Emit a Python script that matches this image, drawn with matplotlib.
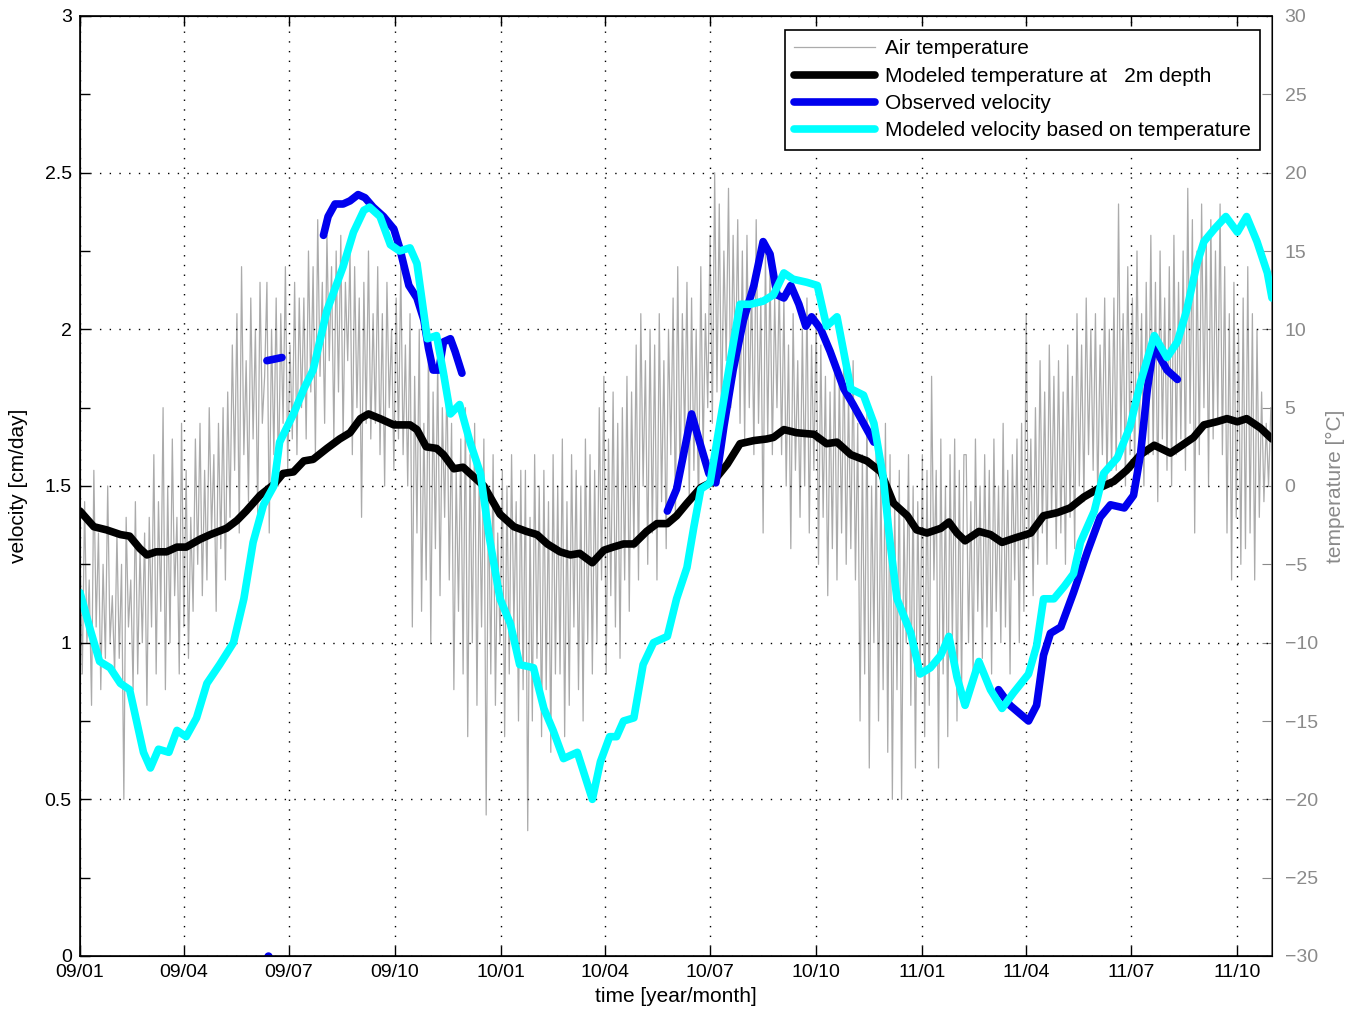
import numpy as np
import matplotlib
matplotlib.use("Agg")
import matplotlib.pyplot as plt
import matplotlib.dates as mdates
from matplotlib.ticker import MultipleLocator, FormatStrFormatter, FuncFormatter

plt.rcParams['font.family'] = ['Liberation Sans', 'DejaVu Sans']

START = np.datetime64('2009-01-01')
END_DAY = 1033

# air temperature (deg C), one value every 2 days from 2009-01-01
air_temp = [
    -4, -12, -1, -10, -6, -14, 1, -9, -3, -13, -5, -11, 0, -10, -7, -12,
    -3, -11, -5, -20, -2, -9, -6, -13, -1, -12, -4, -10, -3, -14, -2, -9,
    2, -12, -1, -8, 5, -13, 0, -10, 3, -7, -2, -12, 4, -9, 1, -11,
    -2, -8, 3, -5, 4, -7, 1, -6, 5, -3, 2, -8, 4, -4, 5, -6,
    6, -2, 9, 1, 11, -3, 14, 2, 8, -1, 12, 3, 10, -2, 13, 4,
    7, 13, -3, 10, 2, 12, 0, 11, 4, 14, 1, 9, 3, 13, 2, 12,
    5, 12, 3, 15, 6, 14, 2, 17, 7, 13, 4, 16, 8, 14, 3, 15,
    6, 16, 3, 13, 8, 15, 2, 14, 5, 12, -2, 13, 4, 15, 3, 11,
    4, 14, 2, 11, 0, 13, 5, 10, 1, 12, 3, 14, 2, 9, 0, 11,
    -9, 7, -3, 10, -8, 4, -6, 9, -10, 6, -4, 8, -7, 5, -2, 7,
    -6, 4, -13, 1, -8, 3, -12, 5, -16, 2, -10, 4, -14, 1, -9, 3,
    -21, 0, -12, 2, -14, -3, -10, 1, -16, 0, -12, 2, -9, -1, -15, 1,
    -13, 1, -22, -2, -15, 2, -11, 0, -16, 1, -13, -1, -17, 2, -12, 0,
    -12, 3, -16, -1, -14, 2, -9, 1, -13, 0, -15, 3, -10, 2, -12, 1,
    -10, 5, -6, 7, -12, 3, -7, 6, -9, 4, -11, 5, -6, 7, -8, 6,
    -4, 9, -6, 11, 0, 8, -5, 10, -3, 9, -6, 11, -1, 8, -4, 10,
    2, 12, -2, 14, 0, 11, 3, 13, -1, 12, 1, 10, -2, 14, 2, 11,
    5, 16, 4, 20, 6, 18, 4, 15, 8, 19, 5, 16, 7, 17, 4, 15,
    3, 16, 5, 13, 2, 17, 4, 12, -3, 15, 3, 14, 2, 12, 5, 13,
    2, 12, 0, 9, -4, 11, 1, 8, -2, 10, 0, 12, -3, 9, 1, 11,
    -5, 9, -2, 7, -7, 6, -4, 8, -6, 7, -3, 9, -5, 6, -4, 8,
    -6, 4, -15, 2, -12, 5, -18, 0, -10, 3, -15, 1, -13, 4, -17, 2,
    -20, -1, -13, 1, -20, -2, -10, 2, -14, 0, -18, -1, -12, 2, -16, 1,
    -14, 7, -6, 1, -18, 3, -12, 0, -16, 2, -10, 3, -15, 1, -13, 2,
    2, -10, -1, -12, 3, -8, 0, -11, 2, -9, 1, -12, 3, -8, 0, -10,
    4, -9, 1, -12, 2, -6, 3, -10, 4, -8, 11, -4, 3, -7, 5, -5,
    8, -3, 6, -5, 9, -2, 7, -4, 8, -3, 6, -5, 9, -2, 7, -4,
    11, 0, 9, -1, 12, 2, 10, 1, 11, -1, 9, 2, 12, 0, 10, 1,
    12, 1, 18, 3, 11, 0, 14, 2, 12, 1, 15, 3, 11, 0, 13, 2,
    16, 2, 13, -1, 15, 3, 12, 1, 14, 0, 16, 2, 13, 3, 15, 1,
    19, 4, 17, -3, 15, 2, 18, 5, 16, 0, 17, 3, 15, 4, 18, 2,
    14, -3, 11, -6, 13, -2, 10, -5, 12, -4, 14, -3, 11, -6, 10, -2,
    6, -1, 4, 0, 5,
]

# modeled temperature at 2 m depth (deg C)
t2m_day = [0, 12, 23, 35, 43, 52, 58, 66, 75, 84, 92, 104, 113, 127, 136, 144,
           156, 168, 176, 185, 194, 202, 214, 225, 234, 243, 250, 260, 272, 286,
           292, 300, 309, 315, 324, 332, 341, 350, 364, 376, 387, 396, 405, 416,
           425, 433, 444, 454, 462, 471, 480, 491, 500, 509, 517, 526, 538, 549,
           561, 572, 584, 595, 601, 610, 621, 636, 647, 656, 668, 682, 694, 705,
           717, 725, 734, 746, 753, 760, 767, 779, 789, 799, 811, 824, 835, 847,
           858, 870, 884, 896, 907, 919, 931, 945, 957, 965, 974, 985, 994, 1003,
           1011, 1023, 1033]
t2m_val = [-1.6, -2.6, -2.8, -3.1, -3.2, -4.0, -4.4, -4.2, -4.2, -3.9, -3.9, -3.4,
           -3.1, -2.7, -2.2, -1.6, -0.6, 0.1, 0.8, 0.9, 1.6, 1.7, 2.4, 3.0, 3.4,
           4.3, 4.6, 4.3, 3.9, 3.9, 3.6, 2.5, 2.4, 2.0, 1.1, 1.2, 0.6, 0.0, -1.8,
           -2.6, -2.9, -3.1, -3.7, -4.2, -4.4, -4.3, -4.9, -4.1, -3.9, -3.7, -3.7,
           -2.9, -2.4, -2.4, -1.9, -1.1, -0.1, 0.3, 1.4, 2.7, 2.9, 3.0, 3.1, 3.6,
           3.4, 3.3, 2.7, 2.8, 2.0, 1.6, 0.9, -1.1, -1.9, -2.8, -3.0, -2.7, -2.3,
           -3.0, -3.5, -2.9, -3.1, -3.6, -3.3, -3.0, -1.9, -1.7, -1.4, -0.7, -0.1,
           0.3, 1.0, 2.0, 2.6, 2.1, 2.7, 3.1, 3.9, 4.1, 4.3, 4.1, 4.3, 3.7, 3.0]

# modeled velocity based on temperature (cm/day)
mod_day = [0, 9, 17, 26, 35, 43, 49, 55, 61, 68, 77, 84, 92, 101, 110, 121, 133,
           142, 150, 159, 168, 173, 185, 194, 202, 214, 228, 237, 246, 251, 260,
           269, 277, 286, 292, 301, 309, 315, 321, 329, 338, 347, 355, 364, 373,
           381, 393, 402, 410, 419, 431, 444, 451, 459, 465, 471, 480, 488, 497,
           509, 517, 526, 532, 538, 546, 555, 564, 572, 581, 592, 601, 610, 618,
           630, 639, 647, 656, 668, 679, 688, 696, 702, 708, 720, 728, 737, 746,
           753, 760, 767, 779, 789, 799, 809, 822, 829, 835, 844, 853, 861, 867,
           879, 887, 899, 910, 919, 931, 942, 951, 959, 968, 974, 983, 993, 1003,
           1011, 1020, 1029, 1033]
mod_vel = [1.16, 1.04, 0.94, 0.92, 0.87, 0.85, 0.75, 0.65, 0.60, 0.66, 0.65, 0.72,
           0.70, 0.76, 0.87, 0.93, 1.00, 1.14, 1.32, 1.44, 1.50, 1.64, 1.73, 1.81,
           1.87, 2.06, 2.20, 2.31, 2.38, 2.39, 2.36, 2.27, 2.25, 2.26, 2.21, 1.97,
           1.98, 1.86, 1.73, 1.76, 1.64, 1.54, 1.33, 1.14, 1.06, 0.93, 0.92, 0.79,
           0.72, 0.63, 0.65, 0.50, 0.62, 0.70, 0.70, 0.75, 0.76, 0.93, 1.00, 1.02,
           1.14, 1.24, 1.37, 1.49, 1.51, 1.71, 1.91, 2.08, 2.08, 2.09, 2.11, 2.18,
           2.16, 2.15, 2.14, 2.01, 2.04, 1.81, 1.79, 1.70, 1.53, 1.32, 1.14, 1.03,
           0.90, 0.92, 0.96, 1.02, 0.89, 0.80, 0.94, 0.85, 0.79, 0.84, 0.90, 0.99,
           1.14, 1.14, 1.18, 1.22, 1.32, 1.42, 1.54, 1.59, 1.69, 1.83, 1.98, 1.91,
           1.96, 2.06, 2.21, 2.28, 2.32, 2.36, 2.31, 2.36, 2.28, 2.18, 2.10]

# observed velocity (cm/day), NaN separates the measurement periods
obs_day = [162, 175, np.nan,
           211, 215, 221, 228, 234, 241, 247, 254, 263, 272, 277, 285, 292, 298,
           302, 306, 311, 315, 321, 325, 331, np.nan,
           509, 517, 523, 530, 537, 545, 551, 558, 566, 575, 584, 592, 598, 604,
           610, 616, 623, 629, 634, 642, 650, 662, 670, 679, 688, np.nan,
           796, 806, 822, 829, 835, 841, 850, 861, 873, 884, 893, 905, 913, 919,
           925, 931, 936, 942, 951]
obs_vel = [1.90, 1.91, np.nan,
           2.30, 2.36, 2.40, 2.40, 2.41, 2.43, 2.42, 2.39, 2.36, 2.32, 2.26, 2.14,
           2.10, 2.03, 1.94, 1.87, 1.87, 1.96, 1.97, 1.93, 1.86, np.nan,
           1.42, 1.49, 1.60, 1.73, 1.64, 1.54, 1.51, 1.69, 1.87, 2.03, 2.14, 2.28,
           2.24, 2.11, 2.10, 2.14, 2.08, 2.01, 2.04, 2.00, 1.93, 1.81, 1.76, 1.70,
           1.64, np.nan,
           0.85, 0.80, 0.75, 0.80, 0.96, 1.03, 1.05, 1.16, 1.29, 1.40, 1.44, 1.43,
           1.47, 1.60, 1.81, 1.96, 1.91, 1.87, 1.84]
obs_point_day = [163]
obs_point_vel = [0.0]

x_ticks = ['2009-01-01', '2009-04-01', '2009-07-01', '2009-10-01',
           '2010-01-01', '2010-04-01', '2010-07-01', '2010-10-01',
           '2011-01-01', '2011-04-01', '2011-07-01', '2011-10-01']


def to_dates(days):
    d = np.asarray(days, dtype=float)
    out = np.full(d.shape, np.datetime64('NaT'), dtype='datetime64[D]')
    ok = ~np.isnan(d)
    out[ok] = START + d[ok].astype(int)
    return out


air_dates = START + np.arange(len(air_temp)) * 2

fig = plt.figure(figsize=(13.52, 10.18), dpi=100)
ax1 = fig.add_axes([80 / 1352, 62 / 1018, 1192 / 1352, 940 / 1018])
ax2 = ax1.twinx()
ax1.set_zorder(ax2.get_zorder() + 1)
ax1.patch.set_visible(False)

h_air, = ax2.plot(air_dates, air_temp, color='#ababab', lw=0.9)
h_t2m, = ax2.plot(to_dates(t2m_day), t2m_val, color='black', lw=5.5,
                  solid_capstyle='round', solid_joinstyle='round')
h_obs, = ax1.plot(to_dates(obs_day), obs_vel, color='#0000ee', lw=5.5,
                  solid_capstyle='round', solid_joinstyle='round')
ax1.plot(to_dates(obs_point_day), obs_point_vel, 'o', color='#0000ee', ms=5)
h_mod, = ax1.plot(to_dates(mod_day), mod_vel, color='#00ffff', lw=5.5,
                  solid_capstyle='round', solid_joinstyle='round')

ax1.set_xlim(START, START + END_DAY)
ax1.set_ylim(0, 3)
ax2.set_ylim(-30, 30)

ax1.set_xticks(np.array(x_ticks, dtype='datetime64[D]'))
ax1.xaxis.set_major_formatter(mdates.DateFormatter('%y/%m'))
ax1.yaxis.set_major_locator(MultipleLocator(0.5))
ax1.yaxis.set_minor_locator(MultipleLocator(0.25))
ax1.yaxis.set_major_formatter(FormatStrFormatter('%g'))
ax2.yaxis.set_major_locator(MultipleLocator(5))
ax2.yaxis.set_major_formatter(
    FuncFormatter(lambda v, p: f'{v:g}'.replace('-', '\u2212')))

ax1.tick_params(axis='both', which='both', direction='in', length=7,
                labelsize=14, top=True, right=False, width=1)
ax1.tick_params(axis='x', pad=6)
ax1.tick_params(axis='y', pad=6)
ax2.tick_params(axis='y', direction='in', length=7, labelsize=14,
                colors='#8a8a8a', pad=9)
ax2.spines['right'].set_color('#666666')
for s in ['left', 'bottom', 'top']:
    ax1.spines[s].set_linewidth(1.2)
ax2.spines['right'].set_linewidth(1.2)

ax1.grid(True, which='major', color='black', linestyle=(0, (1, 6)), lw=1.0)

ax1.set_ylabel('velocity [cm/day]', fontsize=15, labelpad=12)
ax1.set_xlabel('time [year/month]', fontsize=15, labelpad=4)
ax2.set_ylabel('temperature [\u00b0C]', fontsize=15, color='#8a8a8a',
               labelpad=6)

leg = ax1.legend([h_air, h_t2m, h_obs, h_mod],
                 ['Air temperature', 'Modeled temperature at   2m depth',
                  'Observed velocity', 'Modeled velocity based on temperature'],
                 loc='upper right', bbox_to_anchor=(0.990, 0.985),
                 borderaxespad=0, fontsize=15, handlelength=3.9,
                 handletextpad=0.45, labelspacing=0.4, borderpad=0.45,
                 fancybox=False, framealpha=1, edgecolor='black')
leg.get_frame().set_linewidth(1.2)

fig.savefig('out.png', dpi=100)
